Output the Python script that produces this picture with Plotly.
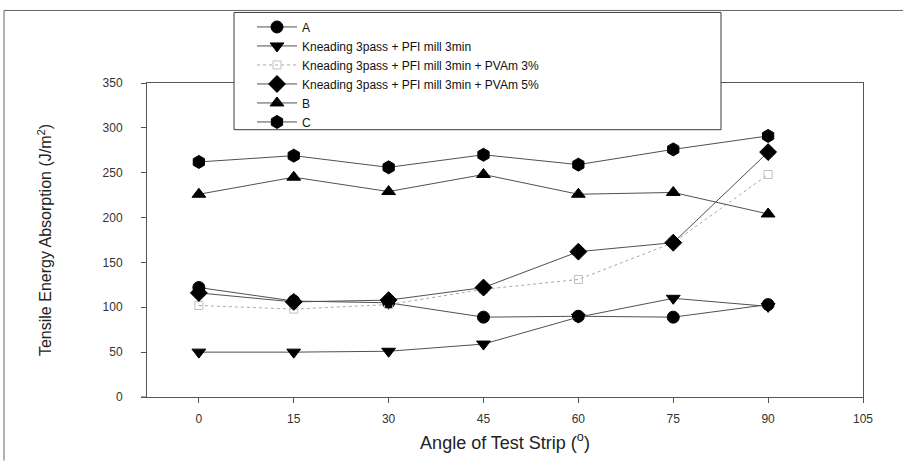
import plotly.graph_objects as go

# ---- data ----
angles = [0, 15, 30, 45, 60, 75, 90]
series_names = [
    "A",
    "Kneading 3pass + PFI mill 3min",
    "Kneading 3pass + PFI mill 3min + PVAm 3%",
    "Kneading 3pass + PFI mill 3min + PVAm 5%",
    "B",
    "C",
]
a_vals = [122, 107, 105, 89, 90, 89, 103]
knead_vals = [50, 50, 51, 59, 89, 110, 101]
pvam3_vals = [102, 98, 103, 120, 131, 172, 248]
pvam5_vals = [116, 106, 108, 122, 162, 172, 273]
b_vals = [226, 245, 229, 248, 226, 228, 204]
c_vals = [262, 269, 256, 270, 259, 276, 291]
x_ticks = [0, 15, 30, 45, 60, 75, 90, 105]
y_ticks = [0, 50, 100, 150, 200, 250, 300, 350]

# ---- styling ----
FONT = "Liberation Sans, Arial, sans-serif"
LINE_C = "#505050"
AX_C = "#555555"

series_vals = [a_vals, knead_vals, pvam3_vals, pvam5_vals, b_vals, c_vals]
symbols = ["circle", "triangle-down", "square-open", "diamond", "triangle-up", "hexagon"]
line_styles = [
    dict(color=LINE_C, width=1),
    dict(color=LINE_C, width=1),
    dict(color="#a8a8a8", width=1, dash="dot"),
    dict(color=LINE_C, width=1),
    dict(color=LINE_C, width=1),
    dict(color=LINE_C, width=1),
]
marker_colors = ["black", "black", "#c0c0c0", "black", "black", "black"]
marker_sizes = [12, 12, 8, 13, 12, 13]

fig = go.Figure()
for name, vals, sym, ls, mc, ms in zip(series_names, series_vals, symbols,
                                       line_styles, marker_colors, marker_sizes):
    fig.add_trace(go.Scatter(
        x=angles, y=vals, name=name, mode="lines+markers",
        line=ls,
        marker=dict(symbol=sym, size=ms, color=mc, line=dict(width=1, color=mc)),
    ))

# plot area in pixels: left 147, right 863, top 81, bottom 397
W, H = 903, 461
L, R, T, B = 147, 863, 81, 397
def px(xp):
    return (xp - L) / (R - L)
def py(yp):
    return (B - yp) / (B - T)

shapes = [
    # legend box
    dict(type="rect", xref="paper", yref="paper",
         x0=px(234), x1=px(721), y0=py(128), y1=py(10),
         fillcolor="white", line=dict(color="#3a3a3a", width=1), layer="above"),
    # outer frame (top and left)
    dict(type="line", xref="paper", yref="paper",
         x0=px(4), x1=px(903), y0=py(8), y1=py(8),
         line=dict(color="#666666", width=1)),
    dict(type="line", xref="paper", yref="paper",
         x0=px(4), x1=px(4), y0=py(8), y1=py(461),
         line=dict(color="#666666", width=1)),
    # small extension of x axis line to the left
    dict(type="line", xref="paper", yref="paper",
         x0=px(141), x1=0, y0=0, y1=0,
         line=dict(color=AX_C, width=1)),
]

fig.update_layout(
    width=W, height=H,
    margin=dict(l=L, r=W - R, t=T, b=H - B),
    paper_bgcolor="white", plot_bgcolor="white",
    font=dict(family=FONT, color="#222222"),
    showlegend=True,
    legend=dict(
        x=px(252), y=py(10), xanchor="left", yanchor="top",
        bgcolor="rgba(0,0,0,0)", borderwidth=0,
        font=dict(family=FONT, size=12, color="#111111"),
        itemwidth=40, traceorder="normal",
    ),
    shapes=shapes,
    xaxis=dict(
        range=[-8.2, 105], tickvals=x_ticks, ticktext=[str(v) for v in x_ticks],
        showgrid=False, zeroline=False,
        showline=True, linecolor=AX_C, linewidth=1, mirror=True,
        ticks="outside", ticklen=5, tickcolor=AX_C, tickwidth=1,
        tickfont=dict(family=FONT, size=12, color="#333333"),
        ticklabelstandoff=6,
        title=dict(text="Angle of Test Strip (<sup>o</sup>)",
                   font=dict(family=FONT, size=18, color="#222222"), standoff=10),
    ),
    yaxis=dict(
        range=[0, 350], tickvals=y_ticks, ticktext=[str(v) for v in y_ticks],
        showgrid=False, zeroline=False,
        showline=True, linecolor=AX_C, linewidth=1, mirror=True,
        ticks="outside", ticklen=5, tickcolor=AX_C, tickwidth=1,
        tickfont=dict(family=FONT, size=12, color="#333333"),
        ticklabelstandoff=16,
        title=dict(text="Tensile Energy Absorption (J/m<sup>2</sup>)",
                   font=dict(family=FONT, size=16, color="#222222"), standoff=46),
    ),
)

fig.write_html("out.html")
